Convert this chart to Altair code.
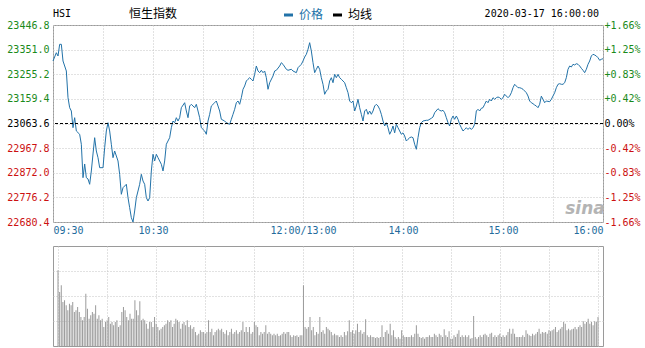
import altair as alt
import pandas as pd

# ---------------- data ----------------
prev_close = 23063.6

# trading minutes since 09:30 open (12:00 and 13:00 share index 150)
price_minute = [
    0, 2, 3, 4, 5, 6, 8, 9, 10, 11,
    12, 13, 14, 16, 17, 18, 19, 20, 21, 22,
    23, 24, 25, 26, 27, 28, 30, 31, 32, 33,
    34, 35, 36, 37, 39, 40, 41, 42, 44, 45,
    46, 47, 48, 49, 50, 51, 52, 53, 54, 55,
    56, 57, 58, 59, 60, 61, 62, 63, 65, 66,
    67, 68, 70, 71, 72, 73, 74, 75, 76, 77,
    79, 80, 81, 82, 83, 85, 86, 87, 88, 89,
    91, 92, 93, 94, 95, 97, 98, 99, 100, 101,
    103, 104, 106, 107, 108, 109, 110, 111, 112, 113,
    114, 115, 116, 117, 118, 119, 120, 121, 122, 123,
    124, 125, 126, 127, 128, 129, 130, 132, 133, 134,
    136, 137, 138, 140, 141, 143, 144, 146, 147, 149,
    150, 151, 152, 153, 154, 155, 156, 157, 158, 159,
    160, 161, 162, 163, 164, 165, 166, 167, 168, 169,
    170, 171, 172, 173, 174, 175, 176, 177, 178, 179,
    180, 181, 182, 183, 184, 185, 186, 187, 188, 189,
    190, 191, 192, 193, 194, 195, 196, 197, 198, 199,
    200, 201, 202, 203, 204, 205, 206, 207, 208, 209,
    210, 211, 212, 213, 214, 215, 216, 217, 218, 219,
    220, 221, 222, 224, 225, 227, 228, 229, 231, 232,
    233, 234, 235, 236, 237, 238, 239, 240, 241, 242,
    243, 244, 245, 246, 247, 248, 249, 250, 251, 252,
    253, 254, 255, 256, 257, 258, 259, 260, 261, 262,
    263, 264, 265, 266, 267, 268, 269, 270, 271, 272,
    273, 274, 275, 276, 277, 278, 279, 280, 281, 282,
    283, 284, 285, 286, 287, 288, 289, 290, 291, 292,
    293, 294, 295, 296, 298, 299, 300, 301, 302, 303,
    304, 305, 306, 307, 308, 309, 310, 311, 312, 313,
    314, 315, 316, 317, 318, 319, 320, 321, 322, 323,
    324, 325, 326, 327, 328, 329, 330,
]

price = [
    23306.7, 23339.0, 23326.2, 23371.7, 23371.7, 23306.7, 23267.9, 23164.0, 23125.1, 23112.2,
    23047.3, 23086.2, 23034.5, 23021.6, 22982.7, 22852.8, 22906.1, 22852.8, 22847.7, 22827.1,
    22878.9, 22945.0, 23008.4, 22956.6, 22930.6, 22891.7, 22891.7, 22969.5, 23034.5, 23066.7,
    23034.5, 22982.7, 22930.6, 22956.6, 22917.8, 22866.0, 22788.2, 22813.9, 22827.1, 22775.0,
    22736.1, 22697.2, 22680.4, 22723.2, 22775.0, 22801.0, 22827.1, 22866.0, 22839.9, 22827.1,
    22775.0, 22762.1, 22775.0, 22878.9, 22943.8, 22917.8, 22943.8, 22930.6, 22904.9, 22878.9,
    22917.8, 22982.7, 23008.4, 23047.3, 23073.3, 23066.7, 23086.2, 23073.3, 23086.2, 23125.1,
    23144.5, 23112.2, 23086.2, 23131.7, 23138.3, 23125.1, 23138.3, 23112.2, 23086.2, 23047.3,
    23034.5, 23021.6, 23073.3, 23099.4, 23131.7, 23144.5, 23151.1, 23131.7, 23112.2, 23080.0,
    23073.3, 23066.7, 23060.5, 23080.0, 23099.4, 23118.9, 23144.5, 23151.1, 23138.3, 23164.0,
    23196.7, 23209.5, 23229.0, 23235.6, 23241.8, 23235.6, 23229.0, 23255.0, 23287.3, 23267.9,
    23261.3, 23270.6, 23261.3, 23267.9, 23241.8, 23196.7, 23222.3, 23248.4, 23267.9, 23270.6,
    23287.3, 23300.1, 23293.9, 23274.5, 23270.6, 23274.5, 23267.9, 23261.3, 23280.7, 23293.9,
    23306.7, 23322.3, 23332.8, 23352.3, 23378.0, 23345.7, 23300.1, 23261.3, 23274.5, 23287.3,
    23274.5, 23241.8, 23216.1, 23177.2, 23190.1, 23196.7, 23229.0, 23241.8, 23222.3, 23255.0,
    23241.8, 23255.0, 23241.8, 23235.6, 23229.0, 23222.3, 23202.9, 23183.4, 23151.1, 23144.5,
    23151.1, 23112.2, 23131.7, 23157.8, 23125.1, 23099.4, 23073.3, 23112.2, 23118.9, 23099.4,
    23112.2, 23099.4, 23112.2, 23131.7, 23138.3, 23131.7, 23118.9, 23099.4, 23073.3, 23053.9,
    23066.7, 23047.3, 23021.6, 23034.5, 23053.9, 23027.2, 23060.5, 23047.3, 23034.5, 23021.6,
    23027.2, 23015.0, 22995.5, 23002.1, 23008.4, 23011.1, 23008.4, 22982.7, 22963.2, 23008.4,
    23047.3, 23066.7, 23073.3, 23076.1, 23076.1, 23083.9, 23088.9, 23105.6, 23121.2, 23115.0,
    23112.2, 23115.0, 23105.6, 23086.2, 23066.7, 23053.9, 23080.0, 23092.8, 23080.0, 23092.8,
    23080.0, 23060.5, 23047.3, 23034.5, 23040.4, 23047.3, 23040.4, 23047.3, 23040.4, 23047.3,
    23060.5, 23112.2, 23118.9, 23112.2, 23122.8, 23125.1, 23138.3, 23151.1, 23144.5, 23157.8,
    23151.1, 23164.0, 23157.8, 23164.0, 23166.7, 23164.0, 23157.8, 23164.0, 23177.2, 23170.6,
    23164.0, 23170.6, 23183.4, 23202.9, 23216.1, 23209.5, 23202.9, 23202.9, 23200.6, 23196.7,
    23190.1, 23183.4, 23170.6, 23151.1, 23144.5, 23140.6, 23135.6, 23131.7, 23125.1, 23138.3,
    23170.0, 23157.8, 23144.5, 23151.1, 23148.4, 23157.8, 23170.6, 23183.4, 23202.9, 23216.1,
    23218.5, 23216.1, 23216.1, 23222.3, 23241.8, 23274.5, 23287.3, 23283.4, 23293.9, 23291.2,
    23296.2, 23293.9, 23287.3, 23278.4, 23270.6, 23261.3, 23274.5, 23293.9, 23306.7, 23326.2,
    23332.8, 23330.1, 23326.2, 23319.6, 23309.5, 23313.4, 23315.7,
]

# per-minute volume (relative units, one bar per trading minute 0..330)
volume = [
    75.7, 54, 60.7, 44, 45.7, 40.7, 35.7, 42.3, 40.7, 44,
    34, 35.7, 39, 34, 29, 25.7, 29, 52.3, 37.3, 27.3,
    30.7, 34, 32.3, 40.7, 27.3, 30.7, 25.7, 27.3, 19,
    24, 25.7, 29, 22.3, 24, 20.7, 24, 25.7, 19, 20.7,
    34, 39, 35.7, 29, 25.7, 32.3, 27.3, 27.3, 45.7, 35.7,
    30.7, 44.7, 25.7, 27.3, 25.7, 22.3, 17.3, 24, 24, 19,
    29, 22.3, 19, 15.7, 17.3, 19, 20.7, 22.3, 25.7, 24,
    25.7, 19, 22.3, 27.3, 25.7, 24, 17.3, 22.3, 24, 20.7,
    25.7, 19, 20.7, 17.3, 19, 14, 10.7, 12.3, 15.7, 14,
    14, 12.3, 14, 25.7, 14, 17.3, 10.7, 14, 15.7, 17.3,
    15.7, 17.3, 14, 12.3, 15.7, 10.7, 14, 17.3, 12.3, 14,
    15.7, 12.3, 14, 15.7, 24, 14, 19, 14, 19, 12.3,
    14, 24, 20.7, 19, 10.7, 14, 12.3, 14, 20.7, 12.3,
    14, 12.3, 10.7, 12.3, 10.7, 12.3, 10, 10.7, 12.3, 14,
    12.3, 14, 14, 10.7, 9, 10.7, 10, 10.7, 9, 10.7,
    10.7, 60.7,
    19, 17.3, 19, 29, 15.7, 19, 10.7, 14, 12.3, 29,
    14, 15.7, 12.3, 19, 17.3, 15.7, 14, 10.7, 12.3, 10.7, 10.7,
    9, 10.7, 9, 14, 10.7, 14.7, 25.7, 14, 15.7, 12.3,
    15.7, 22.3, 14, 15.7, 12.3, 14, 26.7, 10.7, 9, 10.7,
    9, 9, 8, 9, 8, 9, 20.7, 9, 14, 15.7,
    12.3, 22.3, 10.7, 15.7, 9, 7.3, 9, 7.3, 15.7, 10.7,
    9, 9, 9, 9, 10.7, 9, 12.3, 20.7, 12.3, 9,
    8, 9, 7.3, 9, 9, 10.7, 9, 9, 12.3, 10.7,
    9, 12.3, 10.7, 9, 16.7, 10.7, 9, 14.7, 7.3, 7.3,
    10.7, 9, 12.3, 15.7, 9, 10.7, 9, 10.7, 9, 10.7,
    7.3, 8, 30, 9, 7.3, 9, 10.7, 9, 11.3, 12.3,
    10.7, 9, 12.3, 13.3, 9, 10.7, 9, 10.7, 12.3, 9,
    10.7, 9, 10.7, 14, 17.3, 12.3, 17.3, 12.3, 9, 9,
    9, 9, 10.7, 9, 15.7, 12.3, 10.7, 10, 12.3, 10.7,
    12.3, 14, 17.3, 12.3, 14, 13.3, 14, 12.3, 15.7, 14.7,
    15.7, 16.7, 19, 14, 15.7, 17.3, 19, 24, 22.3, 15.7,
    17.3, 15.7, 16.7, 17.3, 19, 16.7, 19, 20.7, 19, 24.7,
    22.3, 24, 27.3, 22.3, 24, 20.7, 24.7, 24, 29,
]

y_ticks = [22680.4, 22776.2, 22872.0, 22967.8, 23063.6, 23159.4, 23255.2, 23351.0, 23446.8]
x_grid = [0, 30, 60, 90, 120, 150, 180, 210, 240, 270, 300, 330]
x_label_pos = [0, 60, 150, 210, 270, 330]
x_labels = ["09:30", "10:30", "12:00/13:00", "14:00", "15:00", "16:00"]
vol_grid = [25, 50, 75]

# ---------------- styling ----------------
MONO = "DejaVu Sans Mono"
CJK = "Noto Sans CJK SC"
GREEN = "#1a8a1a"
RED = "#cc1111"
GRID = "#c4c4c4"
LINE_BLUE = "#2272a8"
LABEL_BLUE = "#236b9c"
BORDER = "#9a9a9a"

price_df = pd.DataFrame({"minute": price_minute, "price": price})
vol_df = pd.DataFrame({"minute": list(range(len(volume))), "vol": volume})
one = pd.DataFrame({"k": [0]})

hi = f"{prev_close + 0.05}"
lo = f"{prev_close - 0.05}"
color_cond = {
    "condition": [
        {"test": f"datum.value > {hi}", "value": GREEN},
        {"test": f"datum.value < {lo}", "value": RED},
    ],
    "value": "#000000",
}

x_label_expr = "".join(
    f"datum.value == {p} ? '{t}' : " for p, t in zip(x_label_pos, x_labels)
) + "''"

pct_expr = (
    f"(datum.value > {hi} ? '+' : datum.value < {lo} ? '-' : '') + "
    f"format(abs(datum.value - {prev_close}) / {prev_close} * 100, '.2f') + '%'"
)

x_scale = alt.Scale(domain=[0, 330], nice=False, zero=False)
y_scale = alt.Scale(domain=[y_ticks[0], y_ticks[-1]], nice=False, zero=False)

x_main = alt.X(
    "minute:Q",
    scale=x_scale,
    axis=alt.Axis(
        values=x_grid, title=None, grid=True, gridColor=GRID, gridDash=[1, 2],
        domain=False, ticks=False, labelExpr=x_label_expr, labelFont=MONO,
        labelFontSize=10, labelColor=LABEL_BLUE, labelPadding=3,
        labelFlush=True, labelOverlap=False,
    ),
)

line = alt.Chart(price_df).mark_line(color=LINE_BLUE, strokeWidth=1).encode(
    x=x_main,
    y=alt.Y(
        "price:Q",
        scale=y_scale,
        axis=alt.Axis(
            values=y_ticks, format=".1f", title=None, grid=True, gridColor=GRID,
            gridDash=[1, 2], domain=False, ticks=False, labelPadding=4,
            labelFont=MONO, labelFontSize=10, labelColor=color_cond,
            labelOverlap=False,
        ),
    ),
)

close_df = pd.DataFrame({"close": [prev_close]})
close_rule = alt.Chart(close_df).mark_rule(
    color="#000000", strokeDash=[3, 2], strokeWidth=1
).encode(
    y=alt.Y(
        "close:Q",
        scale=y_scale,
        axis=alt.Axis(
            orient="right", values=y_ticks, title=None, grid=False,
            domain=False, ticks=False, labelPadding=1, labelFont=MONO,
            labelFontSize=10, labelColor=color_cond, labelExpr=pct_expr,
            labelOverlap=False,
        ),
    ),
)


def txt(text, x, y, color="#000000", font=MONO, size=10, align="left", **kw):
    return alt.Chart(one).mark_text(
        text=text, font=font, fontSize=size, color=color, align=align,
        baseline="middle", **kw
    ).encode(x=alt.value(x), y=alt.value(y))


def dash(x1, x2, y, color):
    return alt.Chart(one).mark_rule(color=color, strokeWidth=3).encode(
        x=alt.value(x1), x2=alt.value(x2), y=alt.value(y)
    )


header = [
    txt("HSI", 0, -11),
    txt("恒生指数", 76, -11, font=CJK, size=12),
    dash(231, 240, -10, LINE_BLUE),
    txt("价格", 246, -10, color=LINE_BLUE, font=CJK, size=12),
    dash(280, 289, -10, "#000000"),
    txt("均线", 295, -10, font=CJK, size=12),
    txt("2020-03-17 16:00:00", 546, -11, align="right"),
    txt("sina", 532, 184, color="#b4b4b4", font="DejaVu Sans", size=17,
        align="center", fontStyle="italic", fontWeight="bold"),
]

main = alt.layer(line, close_rule, *header).resolve_axis(y="independent").properties(
    width=550, height=197
)

vol = alt.Chart(vol_df).mark_bar(color="#9a9a9a", width=1).encode(
    x=alt.X(
        "minute:Q",
        scale=x_scale,
        axis=alt.Axis(
            values=x_grid, title=None, grid=True, gridColor=GRID, gridDash=[1, 2],
            domain=False, ticks=False, labels=False,
        ),
    ),
    y=alt.Y(
        "vol:Q",
        scale=alt.Scale(domain=[0, 100], nice=False),
        axis=alt.Axis(
            values=vol_grid, title=None, grid=True, gridColor=GRID, gridDash=[1, 2],
            domain=False, ticks=False, labels=False,
        ),
    ),
).properties(width=550, height=100)

chart = alt.vconcat(main, vol, spacing=9).properties(
    padding={"left": 6, "top": 7, "right": 0, "bottom": 0},
    background="#ffffff",
).configure_view(stroke=BORDER, strokeWidth=1)

chart.save("out.html", embed_options={"renderer": "svg", "actions": False})
